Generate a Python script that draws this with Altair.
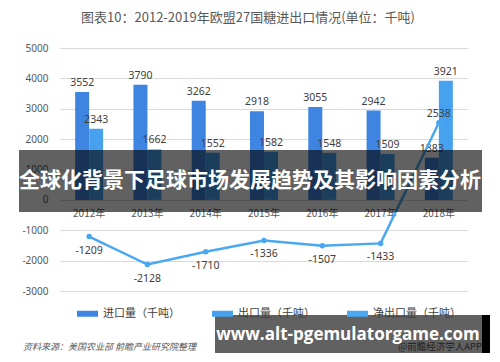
import altair as alt
import pandas as pd

years = ["2012年", "2013年", "2014年", "2015年", "2016年", "2017年", "2018年"]
imports = [3552, 3790, 3262, 2918, 3055, 2942, 1383]
exports = [2343, 1662, 1552, 1582, 1548, 1509, 3921]
net = [-1209, -2128, -1710, -1336, -1507, -1433, 2538]

S_IMP = "进口量（千吨）"
S_EXP = "出口量（千吨）"
S_NET = "净出口量（千吨）"
series_order = [S_IMP, S_EXP, S_NET]
colors = ["#3D85E0", "#46A2EE", "#4AA8F0"]

title_text = "图表10：2012-2019年欧盟27国糖进出口情况(单位：千吨)"
banner_text = "全球化背景下足球市场发展趋势及其影响因素分析"
watermark_text = "www.alt-pgemulatorgame.com"
source_text = "资料来源：美国农业部 前瞻产业研究院整理"
credit_text = "@前瞻经济学人APP"

CJK = "Noto Sans CJK SC"

bars_df = pd.DataFrame(
    [{"year": y, "series": S_IMP, "value": v} for y, v in zip(years, imports)]
    + [{"year": y, "series": S_EXP, "value": v} for y, v in zip(years, exports)]
)
net_df = pd.DataFrame({"year": years, "value": net, "series": S_NET})

x_enc = alt.X(
    "year:N",
    sort=years,
    scale=alt.Scale(paddingInner=0.52, paddingOuter=0.26),
    axis=alt.Axis(
        title=None, labelAngle=0, domain=False, ticks=False, offset=-91,
        labelPadding=8, labelFont=CJK, labelFontSize=10, labelColor="#595959",
    ),
)
y_enc = alt.Y(
    "value:Q",
    scale=alt.Scale(domain=[-3000, 5000], nice=False, zero=False),
    axis=alt.Axis(
        title=None, values=list(range(-3000, 5001, 1000)), domain=False, ticks=False,
        gridColor="#D9D9D9", labelPadding=12, labelFont="Noto Sans",
        labelFontSize=10, labelColor="#595959", labelExpr="'' + datum.value",
    ),
)
color_enc = alt.Color(
    "series:N",
    scale=alt.Scale(domain=series_order, range=colors),
    legend=alt.Legend(
        title=None, orient="none", direction="horizontal", legendX=14, legendY=252,
        symbolType="stroke", symbolSize=441, symbolStrokeWidth=6,
        labelFont=CJK, labelFontSize=11, labelColor="#404040", columnPadding=20,
        labelOffset=2,
    ),
)
xoff = alt.XOffset("series:N", sort=[S_IMP, S_EXP])

bars = alt.Chart(bars_df).mark_bar().encode(
    x=x_enc, y=y_enc, color=color_enc, xOffset=xoff
)
bar_labels = alt.Chart(bars_df).transform_calculate(
    lab="'' + datum.value"
).mark_text(
    baseline="bottom", dy=-4, font="Noto Sans", fontSize=10.5, color="#404040"
).encode(x=x_enc, y=y_enc, xOffset=xoff, text="lab:N")

line = alt.Chart(net_df).mark_line(strokeWidth=2.5).encode(
    x=x_enc, y=y_enc, color=color_enc
)
pts = alt.Chart(net_df).mark_point(filled=True, size=30, opacity=1).encode(
    x=x_enc, y=y_enc,
    color=alt.Color("series:N", scale=alt.Scale(domain=series_order, range=colors), legend=None),
)
net_lab_neg = alt.Chart(net_df).transform_filter("datum.value < 0").transform_calculate(
    lab="'' + datum.value"
).mark_text(
    baseline="top", dy=9, font="Noto Sans", fontSize=10.5, color="#404040"
).encode(x=x_enc, y=y_enc, text="lab:N")
net_lab_pos = alt.Chart(net_df).transform_filter("datum.value >= 0").transform_calculate(
    lab="'' + datum.value"
).mark_text(
    baseline="bottom", dy=-4, font="Noto Sans", fontSize=10.5, color="#404040"
).encode(x=x_enc, y=y_enc, text="lab:N")

# overlays (banner, watermark, source line)
ann = pd.DataFrame({"t": [banner_text]})
banner_rect = alt.Chart(ann).mark_rect(color="black", opacity=0.62).encode(
    x=alt.value(-41), x2=alt.value(422), y=alt.value(102), y2=alt.value(164)
)
banner_txt = alt.Chart(ann).mark_text(
    font=CJK, fontWeight="bold", fontSize=21, color="white", align="center", baseline="middle"
).encode(x=alt.value(190), y=alt.value(133), text="t:N")

src_df = pd.DataFrame({"t": [source_text]})
src_txt = alt.Chart(src_df).mark_text(
    font=CJK, fontStyle="italic", fontSize=9, color="#595959", align="left", baseline="middle"
).encode(x=alt.value(-37), y=alt.value(299), text="t:N")
cred_df = pd.DataFrame({"t": [credit_text]})
cred_txt = alt.Chart(cred_df).mark_text(
    font=CJK, fontSize=9.5, color="#595959", align="right", baseline="middle"
).encode(x=alt.value(422), y=alt.value(299), text="t:N")

wm_df = pd.DataFrame({"t": [watermark_text]})
wm_rect = alt.Chart(wm_df).mark_rect(color="black", opacity=0.62).encode(
    x=alt.value(155), x2=alt.value(422), y=alt.value(267), y2=alt.value(305)
)
wm_edge = alt.Chart(wm_df).mark_rect(color="black").encode(
    x=alt.value(422), x2=alt.value(430), y=alt.value(267), y2=alt.value(305)
)
wm_txt = alt.Chart(wm_df).mark_text(
    font="Open Sans", fontWeight="bold", fontSize=17, color="white", align="center", baseline="middle"
).encode(x=alt.value(288), y=alt.value(287), text="t:N")

chart = alt.layer(
    bars, bar_labels, line, pts, net_lab_neg, net_lab_pos,
    banner_rect, banner_txt, src_txt, cred_txt, wm_rect, wm_edge, wm_txt,
).properties(
    width=408, height=243,
    title=alt.TitleParams(
        title_text, font=CJK, fontSize=13, fontWeight="normal", color="#595959",
        anchor="middle", offset=18, dx=-16,
    ),
    autosize=alt.AutoSizeParams(type="none"),
    padding={"left": 52, "top": 40, "right": 24, "bottom": 66},
).configure_view(stroke=None)

chart.save("out.html", embed_options={"renderer": "svg", "actions": False})
